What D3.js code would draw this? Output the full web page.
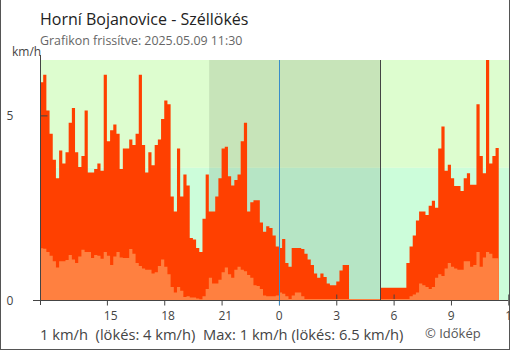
<!DOCTYPE html>
<html><head><meta charset="utf-8">
<script src="https://cdn.jsdelivr.net/npm/d3@7"></script>
<style>
html,body{margin:0;padding:0;background:#fff;}
svg{display:block;font-family:"Open Sans",sans-serif;}
</style></head>
<body><svg id="c" width="510" height="350"></svg>
<script>
// ---- data ----
const title = "Horní Bojanovice - Széllökés";
const subtitle = "Grafikon frissítve: 2025.05.09 11:30";
const unitLabel = "km/h";
const footerText = "1 km/h  (lökés: 4 km/h)  Max: 1 km/h (lökés: 6.5 km/h)";
const credit = "© Időkép";
const startTime = new Date(2025, 4, 8, 11, 30);
const endTime = new Date(2025, 4, 9, 12, 0);
const stepMinutes = 10;
const sunset = new Date(2025, 4, 8, 20, 21);
const sunrise = new Date(2025, 4, 9, 5, 17);
const midnight = new Date(2025, 4, 9, 0, 0);
const yMax = 6.5;
const bandThreshold = 3.58;
const yTicks = [0, 5];
const xTickHours = [15, 18, 21, 0, 3, 6, 9, 12];

const gust = [
 5.9,6.1,5.13,4.5,3.8,3.3,4.05,3.7,4.0,4.8,
 5.2,4.0,3.6,3.9,5.13,3.45,3.45,3.55,3.7,3.5,
 6.1,4.3,4.6,4.75,4.5,3.55,4.1,4.1,4.35,4.2,
 4.5,6.1,4.2,3.45,4.0,3.65,4.2,4.35,4.9,5.4,
 5.3,2.8,2.4,4.1,2.8,3.4,3.1,1.68,1.64,1.41,
 1.3,2.2,3.4,2.4,2.4,2.8,3.3,4.1,4.15,3.35,
 3.1,3.25,3.4,4.3,4.8,2.4,2.65,2.7,2.7,2.1,
 1.85,2.0,1.95,1.75,1.45,1.41,1.65,1.0,0.9,1.41,
 1.41,1.41,1.38,1.25,1.1,0.95,0.72,0.6,0.72,0.62,
 0.45,0.4,0.4,0.5,0.8,0.95,0.95,0,0,0,
 0,0,0,0,0,0,0,0.33,0.33,0.33,
 0.33,0.33,0.33,0.33,0.33,1.0,1.45,1.75,2.15,2.4,
 2.4,2.3,2.55,2.69,2.5,4.1,4.7,3.5,3.66,3.3,
 3.09,3.09,2.95,3.3,3.43,3.12,3.12,5.3,3.9,3.43,
 6.5,3.7,3.9,4.12
];
const wind = [
 1.4,1.39,1.3,1.2,1.05,0.88,1.05,1.05,1.08,1.22,
 1.1,1.0,1.18,1.36,1.3,1.3,1.14,1.22,1.2,1.12,
 1.3,1.2,0.95,1.18,1.3,1.15,1.14,1.14,1.38,1.25,
 1.0,0.92,0.85,0.82,0.82,0.72,0.75,0.92,1.1,0.9,
 0.7,0.35,0.2,0.35,0.25,0.08,0.1,0.07,0.07,0.04,
 0.02,0.1,0.3,0.6,0.45,0.45,0.55,0.75,0.88,0.7,
 0.6,0.82,0.9,0.82,0.78,0.68,0.6,0.4,0.38,0.3,
 0.12,0.1,0.1,0.1,0.12,0.2,0.17,0.1,0.03,0.12,
 0.2,0.2,0.1,0.03,0.03,0.03,0.03,0.03,0.03,0.03,
 0.03,0.03,0.03,0.03,0.03,0.03,0.03,0.03,0.03,0.03,
 0.03,0.03,0.03,0.03,0.03,0.03,0.03,0.03,0.03,0.03,
 0.03,0.03,0.03,0.03,0.03,0.03,0.1,0.15,0.2,0.45,
 0.4,0.35,0.3,0.35,0.6,0.7,0.65,0.85,1.0,0.9,
 0.85,0.82,0.82,1.05,1.05,0.9,0.95,1.3,0.9,1.15,
 1.3,1.25,1.13,1.13
];

// ---- layout ----
const svg = d3.select("#c");
const L = 40, R = 508.3, T = 60, B = 300;
const x = d3.scaleTime().domain([startTime, endTime]).range([L, R]);
const y = d3.scaleLinear().domain([0, yMax]).range([B, T]);

const times = gust.map((_, i) => d3.timeMinute.offset(startTime, i * stepMinutes));
const lastT = d3.timeMinute.offset(startTime, gust.length * stepMinutes);
const gustPts = gust.map((v, i) => [times[i], v]).concat([[lastT, gust[gust.length-1]]]);
const windPts = wind.map((v, i) => [times[i], v]).concat([[lastT, wind[wind.length-1]]]);

// border
svg.append("line").attr("x1",0.5).attr("x2",0.5).attr("y1",0).attr("y2",350).attr("stroke","#555");
svg.append("line").attr("x1",509.5).attr("x2",509.5).attr("y1",0).attr("y2",350).attr("stroke","#555");
svg.append("line").attr("x1",0).attr("x2",510).attr("y1",349.5).attr("y2",349.5).attr("stroke","#555");

// backgrounds
svg.append("rect").attr("x", L).attr("y", T).attr("width", 509 - L).attr("height", y(bandThreshold) - T).attr("fill", "#ddfdcf");
svg.append("rect").attr("x", L).attr("y", y(bandThreshold)).attr("width", 509 - L).attr("height", B - y(bandThreshold)).attr("fill", "#ccfdda");
svg.append("rect").attr("x", x(sunset)).attr("y", T).attr("width", x(sunrise) - x(sunset)).attr("height", y(bandThreshold) - T).attr("fill", "#c7e4b9");
svg.append("rect").attr("x", x(sunset)).attr("y", y(bandThreshold)).attr("width", x(sunrise) - x(sunset)).attr("height", B - y(bandThreshold)).attr("fill", "#b6e5c5");

const area = d3.area().curve(d3.curveStepAfter).x(d => x(d[0])).y0(y(0)).y1(d => y(d[1]));

svg.append("path").datum(gustPts).attr("d", area).attr("fill", "#ff4000");

// x axis ticks (drawn before wind area)
const tickDates = xTickHours.map(h => (h > 12 ? new Date(2025,4,8,h) : new Date(2025,4,9,h)));
const xAxis = d3.axisBottom(x).tickValues(tickDates).tickFormat(d3.timeFormat("%-H")).tickSize(5).tickPadding(0);
const gx = svg.append("g").attr("transform", `translate(0,${B + 0.5})`).call(xAxis);
gx.select(".domain").remove();
gx.selectAll(".tick line").attr("stroke", "#444").attr("y1", -6);
gx.selectAll(".tick text").attr("fill", "#444").attr("font-size", 12).attr("font-family", "Open Sans")
  .attr("text-anchor", "start").attr("x", -3.6).attr("y", 19.5).attr("dy", 0);

svg.append("path").datum(windPts).attr("d", area).attr("fill", "#ff8040");

// vertical lines
svg.append("line").attr("x1", Math.round(x(midnight)) + 0.5).attr("x2", Math.round(x(midnight)) + 0.5)
  .attr("y1", T).attr("y2", B + 5).attr("stroke", "#3a8dc9");
svg.append("line").attr("x1", Math.round(x(sunrise)) + 0.5).attr("x2", Math.round(x(sunrise)) + 0.5)
  .attr("y1", T).attr("y2", B).attr("stroke", "#444");

// y axis
const yAxis = d3.axisLeft(y).tickValues(yTicks).tickFormat(d3.format("d")).tickSize(7).tickPadding(0);
const gy = svg.append("g").attr("transform", `translate(${L + 0.5},0)`).call(yAxis);
gy.select(".domain").remove();
gy.selectAll(".tick line").attr("stroke", "#444").attr("x2", 7);
gy.selectAll(".tick text").attr("fill", "#444").attr("font-size", 12).attr("font-family", "Open Sans")
  .attr("text-anchor", "start").attr("x", -34).attr("dy", "0.35em");
svg.append("line").attr("x1", L + 0.5).attr("x2", L + 0.5).attr("y1", 55).attr("y2", B + 5).attr("stroke", "#444");
svg.append("line").attr("x1", 33).attr("x2", R).attr("y1", B + 0.5).attr("y2", B + 0.5).attr("stroke", "#444");

// texts
svg.append("text").attr("x", 40).attr("y", 25).attr("font-size", 16).attr("fill", "#222").text(title);
svg.append("text").attr("x", 40).attr("y", 45).attr("font-size", 12.4).attr("fill", "#666").text(subtitle);
svg.append("text").attr("x", 12).attr("y", 56).attr("font-size", 12).attr("fill", "#444").text(unitLabel);
svg.append("text").attr("x", 40).attr("y", 340).attr("font-size", 14.7).attr("fill", "#444").style("white-space","pre").text(footerText);
svg.append("text").attr("x", 425).attr("y", 338).attr("font-size", 13).attr("fill", "#555").text(credit);
</script></body></html>
